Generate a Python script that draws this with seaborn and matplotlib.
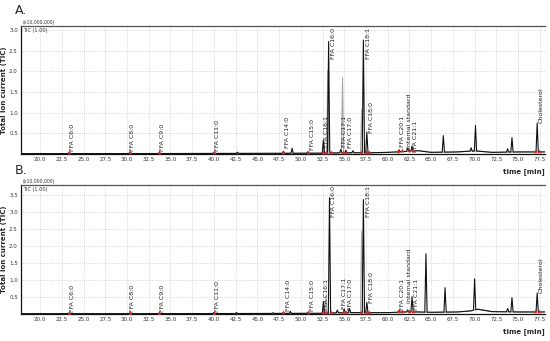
import numpy as np
import pandas as pd
import seaborn as sns
import matplotlib.pyplot as plt
from matplotlib.ticker import MultipleLocator, FixedLocator

# baseline of the two chromatograms (time [min], TIC x10^7)
base_t = [17.8, 30.0, 45.0, 52.0, 55.0, 58.0, 60.0, 62.0, 63.5, 65.0, 68.0, 69.5, 70.4, 72.0, 75.0, 78.2]
base_A = [0.01, 0.01, 0.015, 0.02, 0.03, 0.03, 0.04, 0.06, 0.08, 0.04, 0.05, 0.07, 0.07, 0.04, 0.05, 0.05]
base_B = [0.01, 0.01, 0.015, 0.02, 0.04, 0.04, 0.04, 0.06, 0.06, 0.05, 0.06, 0.09, 0.14, 0.07, 0.06, 0.06]

# peaks: retention time and height above baseline
peak_t_A = [23.3, 30.3, 33.7, 40.0, 42.7, 48.0, 49.0, 50.8, 52.6, 53.2, 54.6, 55.2, 56.0,
            57.2, 57.6, 61.3, 62.3, 62.8, 66.4, 69.6, 70.1, 73.8, 74.3, 77.2]
peak_h_A = [0.02, 0.02, 0.02, 0.03, 0.03, 0.05, 0.12, 0.03, 0.30, 2.70, 0.08, 0.06, 0.05,
            2.73, 0.50, 0.05, 0.08, 0.12, 0.40, 0.08, 0.62, 0.08, 0.35, 0.70]
grey_t_A = [52.6, 53.1, 54.8, 57.0]
grey_h_A = [0.33, 2.00, 1.82, 1.05]

peak_t_B = [23.3, 30.3, 33.7, 40.0, 42.6, 46.8, 48.0, 48.8, 50.8, 52.6, 53.3, 54.2, 55.0, 55.6,
            57.2, 57.6, 61.3, 62.3, 62.8, 64.4, 66.6, 70.0, 73.8, 74.3, 77.2]
peak_h_B = [0.02, 0.02, 0.02, 0.03, 0.03, 0.02, 0.04, 0.06, 0.03, 0.35, 3.40, 0.08, 0.10, 0.12,
            3.33, 0.30, 0.05, 0.06, 0.45, 1.72, 0.72, 0.92, 0.10, 0.42, 0.56]
grey_t_B = [52.9, 57.0]
grey_h_B = [0.50, 2.40]

# peak labels: text, time, bottom of text
labels = ['FFA C6:0', 'FFA C8:0', 'FFA C9:0', 'FFA C11:0', 'FFA C14:0', 'FFA C15:0', 'FFA C16:1',
          'FFA C16:0', 'FFA C17:1', 'FFA C17:0', 'FFA C18:1', 'FFA C18:0', 'FFA C20:1',
          'Internal standard', 'FFA C21:1', 'Cholesterol']
lab_x_A = [23.4, 30.4, 33.8, 40.1, 48.2, 51.0, 52.7, 53.5, 54.75, 55.4, 57.5, 57.9, 61.4, 62.2, 62.9, 77.4]
lab_y_A = [0.08, 0.08, 0.08, 0.08, 0.15, 0.10, 0.17, 2.30, 0.17, 0.15, 2.30, 0.52, 0.17, 0.15, 0.05, 0.75]
lab_x_B = [23.4, 30.4, 33.8, 40.1, 48.3, 51.0, 52.7, 53.5, 54.75, 55.4, 57.5, 57.9, 61.4, 62.2, 63.0, 77.4]
lab_y_B = [0.06, 0.06, 0.06, 0.06, 0.10, 0.08, 0.12, 2.85, 0.14, 0.12, 2.85, 0.33, 0.12, 0.33, 0.12, 0.62]

# integration marks (red) at the labelled peaks
mark_t = [23.3, 30.3, 33.7, 40.0, 48.0, 50.8, 52.5, 52.9, 53.5, 54.8, 55.2, 56.9, 57.5, 57.8,
          61.2, 61.6, 62.4, 62.9, 77.0, 77.4]


def trace(base_y, pt, ph, hw=0.13):
    # baseline points that are not inside a peak, plus three points per peak
    keep = [i for i, t in enumerate(base_t) if all(abs(t - p) > hw for p in pt)]
    ts = [base_t[i] for i in keep]
    ys = [base_y[i] for i in keep]
    for t, h in zip(pt, ph):
        b = np.interp([t - hw, t, t + hw], base_t, base_y)
        ts += [t - hw, t, t + hw]
        ys += [b[0], b[1] + h, b[2]]
    o = np.argsort(ts)
    return pd.DataFrame({'time': np.array(ts)[o], 'tic': np.array(ys)[o]})


sns.set_style('white')
plt.rcParams['font.family'] = ['DejaVu Sans']

fig = plt.figure(figsize=(5.5, 3.41), dpi=100)
W, H = 550, 341
panels = [
    ('A.', 26, 154, 3.1, 3.0, base_A, peak_t_A, peak_h_A, grey_t_A, grey_h_A, lab_x_A, lab_y_A),
    ('B.', 185, 314, 3.8, 3.5, base_B, peak_t_B, peak_h_B, grey_t_B, grey_h_B, lab_x_B, lab_y_B),
]

for (name, top, bot, ymax, ytop, base_y, pt, ph, gt, gh, lx, ly) in panels:
    ax = fig.add_axes([21 / W, 1 - bot / H, 524 / W, (bot - top) / H])
    grey = trace(base_y, gt, gh)
    black = trace(base_y, pt, ph)
    sns.lineplot(data=grey, x='time', y='tic', ax=ax, color='#a8a8a8', lw=0.8,
                 estimator=None, sort=False)
    sns.lineplot(data=black, x='time', y='tic', ax=ax, color='#111111', lw=0.8,
                 estimator=None, sort=False)
    mk = pd.DataFrame({'time': mark_t, 'tic': np.interp(mark_t, base_t, base_y) + 0.03})
    sns.scatterplot(data=mk, x='time', y='tic', ax=ax, marker='^', s=5, color='#d03030',
                    edgecolor='#d03030', linewidth=0.3, zorder=4)
    for txt, x, y in zip(labels, lx, ly):
        ax.text(x, y, txt, rotation=90, ha='left', va='bottom', fontsize=4.5,
                color='#222222', clip_on=False)

    ax.set_xlim(17.8, 78.1)
    ax.set_ylim(0, ymax)
    ax.xaxis.set_minor_locator(MultipleLocator(0.5))
    ax.yaxis.set_major_locator(FixedLocator(np.arange(0.5, ytop + 0.01, 0.5)))
    ax.set_xticks(np.arange(20, 78, 2.5))
    ax.set_xticklabels([f'{v:.1f}' for v in np.arange(20, 78, 2.5)])
    ax.grid(True, which='major', ls=':', lw=0.5, color='#bdbdbd')
    ax.tick_params(axis='both', which='major', labelsize=4.0, length=2.5, width=0.6,
                   direction='inout', pad=1.0, labelcolor='#333333')
    ax.tick_params(axis='x', which='minor', length=2.0, width=0.5, direction='inout')
    ax.set_xlabel('')
    ax.set_ylabel('')
    for s in ['left', 'bottom']:
        ax.spines[s].set_color('#111111')
        ax.spines[s].set_linewidth(0.9)
    ax.spines['top'].set_color('#555555')
    ax.spines['top'].set_linewidth(0.9)
    ax.spines['right'].set_visible(False)

    ax.text(0.004, 1.005, '(x10,000,000)', transform=ax.transAxes, fontsize=3.3,
            va='bottom', ha='left', color='#333333')
    ax.text(0.004, 0.985, 'TIC (1.00)', transform=ax.transAxes, fontsize=3.6,
            va='top', ha='left', color='#333333')
    fig.text(15 / W, 1 - (top - 15) / H, name, fontsize=9, va='center', ha='left')
    fig.text(4.5 / W, 1 - (top + bot) / 2 / H, 'Total ion current (TIC)', rotation=90,
             fontsize=5.0, fontweight='bold', va='center', ha='center')
    fig.text(545 / W, 1 - (bot + 18) / H, 'time [min]', fontsize=5, fontweight='bold',
             va='center', ha='right')

fig.savefig('out.png', dpi=100)
